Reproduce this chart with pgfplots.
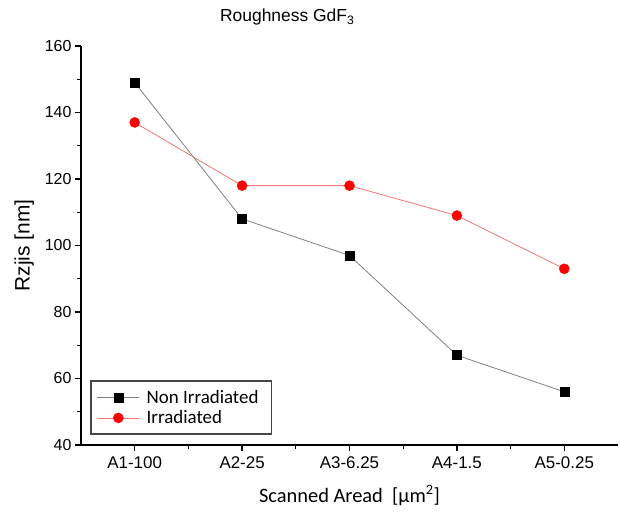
\documentclass[border=0pt]{standalone}
\usepackage{fontspec}
\setmainfont{Liberation Sans}
\newfontfamily\calib{Carlito}
\usepackage{pgfplots}
\pgfplotsset{compat=1.18}

\definecolor{lightred}{RGB}{240,120,120}
\definecolor{framegray}{RGB}{70,70,70}

\begin{document}
\begin{tikzpicture}
\begin{axis}[
  scale only axis,
  width=537bp, height=399bp,
  xmin=-0.5, xmax=4.5,
  ymin=40, ymax=160,
  axis x line*=bottom,
  axis y line*=left,
  axis line style={line width=1.4bp},
  tick align=outside,
  major tick length=6bp,
  minor tick length=4bp,
  every tick/.style={line width=1.2bp, black},
  xtick={0,1,2,3,4},
  xticklabels={A1-100,A2-25,A3-6.25,A4-1.5,A5-0.25},
  minor xtick={0.5,1.5,2.5,3.5},
  ytick={40,60,...,160},
  minor ytick={50,70,...,150},
  /pgf/number format/assume math mode=true,
  yticklabel style={font=\fontsize{16}{19}\selectfont},
  xticklabel style={font=\fontsize{17}{20}\selectfont, yshift=-2bp},
  ylabel={Rzjis [nm]},
  ylabel style={font=\fontsize{21}{25}\selectfont, yshift=4bp},
  xlabel={\calib Scanned Aread\ \ [μm\textsuperscript{2}]},
  xlabel style={font=\fontsize{20.5}{24}\selectfont, yshift=-10bp},
  legend image code/.code={
    \draw[mark=none] (0bp,0bp) -- (42bp,0bp);
    \draw plot[only marks] coordinates {(21bp,0bp)};
  },
  legend style={at={(rel axis cs:0.017,0.025)}, anchor=south west,
    font=\calib\fontsize{19}{22}\selectfont, draw=framegray, line width=1.6bp,
    row sep=2bp, inner xsep=6bp, inner ysep=7bp,
    nodes={inner xsep=7bp}},
  legend cell align=left,
  clip=false,
]
\addplot[gray, line width=0.8bp, mark=square*, mark size=4.5bp,
  mark options={black, solid, line width=0.5bp}] coordinates {
  (0,149) (1,108) (2,97) (3,67) (4,56)
};
\addlegendentry{Non Irradiated}
\addplot[lightred, line width=0.8bp, mark=*, mark size=5bp,
  mark options={red, fill=red, solid, line width=0.5bp}] coordinates {
  (0,137) (1,118) (2,118) (3,109) (4,93)
};
\addlegendentry{Irradiated}
\node[font=\fontsize{17.5}{21}\selectfont, anchor=center] at (rel axis cs:0.384,1.072) {Roughness GdF\textsubscript{3}};
\end{axis}
\pgfresetboundingbox
\path (-81bp,-70bp) rectangle (539bp,445bp);
\end{tikzpicture}
\end{document}
